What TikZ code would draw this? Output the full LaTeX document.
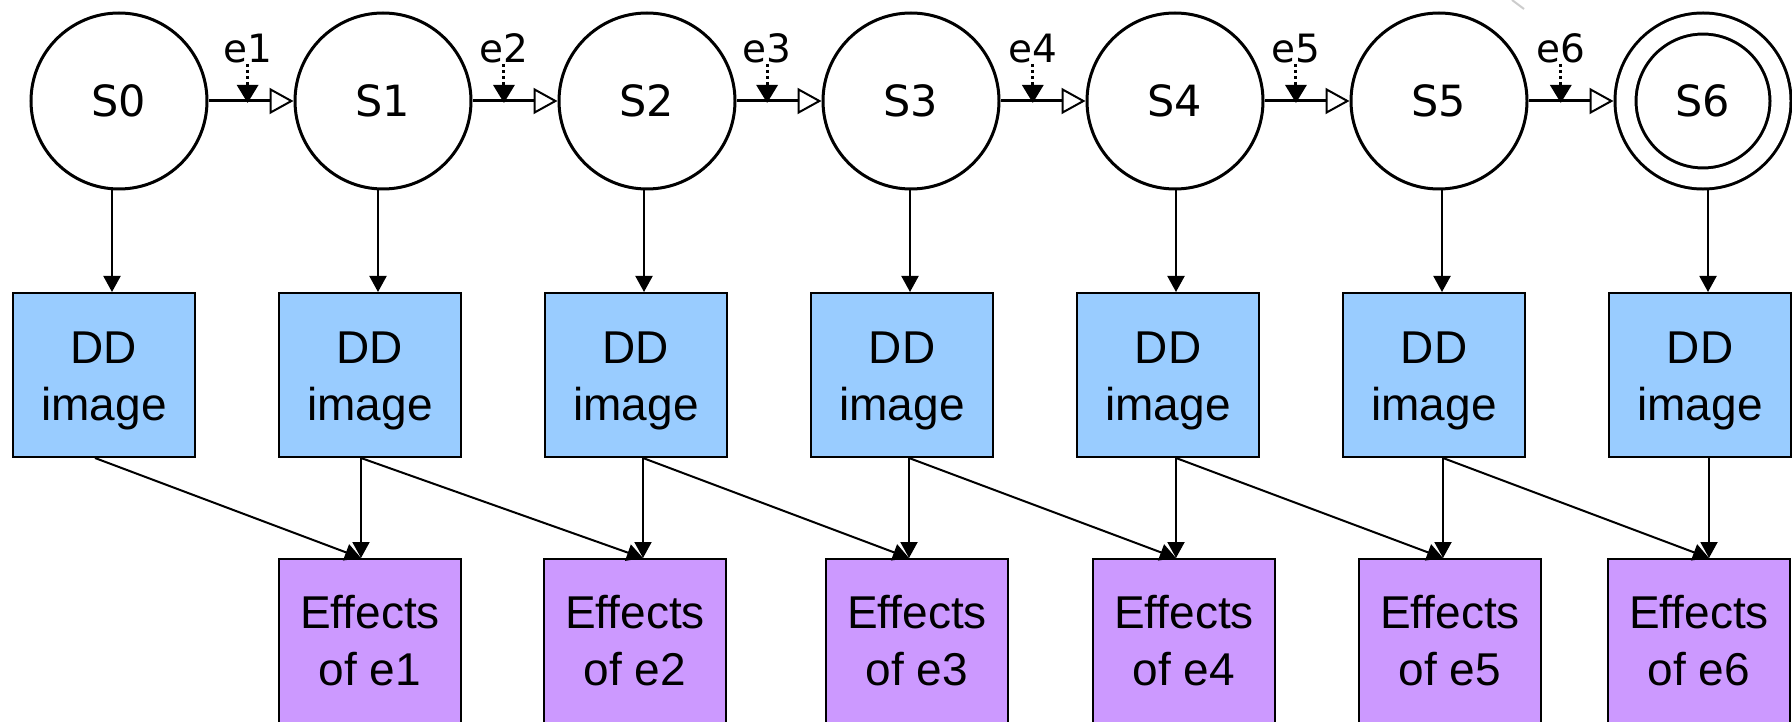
\documentclass[tikz,border=0pt]{standalone}
\usepackage{fontspec}
\setmainfont{Liberation Sans}
\newfontfamily\statefont{DejaVu Sans}
\usetikzlibrary{arrows.meta,positioning}
\definecolor{ddblue}{HTML}{99CCFF}
\definecolor{effpurple}{HTML}{CC99FF}
\newcommand\tallpad{\rule{0pt}{44pt}}

\begin{document}
\begin{tikzpicture}[x=1pt,y=1pt,>={Triangle[length=16pt,width=17pt]},
    state/.style={circle,draw,line width=3pt,minimum size=176pt,inner sep=0pt,
      font=\statefont\fontsize{43}{50}\selectfont},
    final/.style={state,double,double distance=18pt,minimum size=155pt,outer sep=12pt},
    trans/.style={-{Triangle[length=24pt,width=26pt,fill=white,line width=2pt]},line width=3pt},
    evlabel/.style={inner sep=1pt,font=\statefont\fontsize{39}{44}\selectfont},
    evarrow/.style={-{Triangle[length=18pt,width=21pt]},line width=3pt,dash pattern=on 3pt off 3pt},
    ddbox/.style={rectangle,draw,fill=ddblue,line width=2pt,minimum width=182pt,
      minimum height=164pt,align=center,font=\fontsize{46}{57}\selectfont},
    effbox/.style={ddbox,fill=effpurple},
    flow/.style={->,line width=2pt}]

      \useasboundingbox (0,0) rectangle (1792,-722);

      \path (119,-101) node[state](s_0){S0} (383,-101) node[state](s_1){S1}
            (647,-101) node[state](s_2){S2} (911,-101) node[state](s_3){S3}
            (1175,-101) node[state](s_4){S4} (1439,-101) node[state](s_5){S5}
            (1703,-101) node[final](s_6){S6};
      \path (104,-375) node[ddbox](dd_0){\tallpad DD\\image} (370,-375) node[ddbox](dd_1){\tallpad DD\\image}
            (636,-375) node[ddbox](dd_2){\tallpad DD\\image} (902,-375) node[ddbox](dd_3){\tallpad DD\\image}
            (1168,-375) node[ddbox](dd_4){\tallpad DD\\image} (1434,-375) node[ddbox](dd_5){\tallpad DD\\image}
            (1700,-375) node[ddbox](dd_6){\tallpad DD\\image};
      \path (370,-641) node[effbox](eff_1){Effects\\of e1} (635,-641) node[effbox](eff_2){Effects\\of e2}
            (917,-641) node[effbox](eff_3){Effects\\of e3} (1184,-641) node[effbox](eff_4){Effects\\of e4}
            (1450,-641) node[effbox](eff_5){Effects\\of e5} (1699,-641) node[effbox](eff_6){Effects\\of e6};

      % transitions and the events that trigger them
      \draw[trans] (s_0) -- coordinate[pos=.46](hit_1) (s_1);
      \draw[trans] (s_1) -- coordinate[pos=.37](hit_2) (s_2);
      \draw[trans] (s_2) -- coordinate[pos=.36](hit_3) (s_3);
      \draw[trans] (s_3) -- coordinate[pos=.38](hit_4) (s_4);
      \draw[trans] (s_4) -- coordinate[pos=.37](hit_5) (s_5);
      \draw[trans] (s_5) -- coordinate[pos=.38](hit_6) (s_6);
      \node[evlabel,above=37pt of hit_1](ev_1){e1};
      \node[evlabel,above=37pt of hit_2](ev_2){e2};
      \node[evlabel,above=37pt of hit_3](ev_3){e3};
      \node[evlabel,above=37pt of hit_4](ev_4){e4};
      \node[evlabel,above=37pt of hit_5](ev_5){e5};
      \node[evlabel,above=37pt of hit_6](ev_6){e6};
      \draw[evarrow] (ev_1) -- ([yshift=-2pt]hit_1);
      \draw[evarrow] (ev_2) -- ([yshift=-2pt]hit_2);
      \draw[evarrow] (ev_3) -- ([yshift=-2pt]hit_3);
      \draw[evarrow] (ev_4) -- ([yshift=-2pt]hit_4);
      \draw[evarrow] (ev_5) -- ([yshift=-2pt]hit_5);
      \draw[evarrow] (ev_6) -- ([yshift=-2pt]hit_6);

      \draw[flow] ([xshift=-7pt]s_0.south) -- ([xshift=8pt]dd_0.north);
      \draw[flow] ([xshift=-5pt]s_1.south) -- ([xshift=8pt]dd_1.north);
      \draw[flow] ([xshift=-3pt]s_2.south) -- ([xshift=8pt]dd_2.north);
      \draw[flow] ([xshift=-1pt]s_3.south) -- ([xshift=8pt]dd_3.north);
      \draw[flow] ([xshift=1pt]s_4.south) -- ([xshift=8pt]dd_4.north);
      \draw[flow] ([xshift=3pt]s_5.south) -- ([xshift=8pt]dd_5.north);
      \draw[flow] ([xshift=5pt]s_6.south) -- ([xshift=8pt]dd_6.north);

      \coordinate (top_1) at ([xshift=-9pt]eff_1.north);
      \coordinate (top_2) at ([xshift=8pt]eff_2.north);
      \coordinate (top_3) at ([xshift=-8pt]eff_3.north);
      \coordinate (top_4) at ([xshift=-8pt]eff_4.north);
      \coordinate (top_5) at ([xshift=-7pt]eff_5.north);
      \coordinate (top_6) at ([xshift=10pt]eff_6.north);
      \draw[flow] (dd_1.south -| top_1) -- (top_1);
      \draw[flow] (dd_2.south -| top_2) -- (top_2);
      \draw[flow] (dd_3.south -| top_3) -- (top_3);
      \draw[flow] (dd_4.south -| top_4) -- (top_4);
      \draw[flow] (dd_5.south -| top_5) -- (top_5);
      \draw[flow] (dd_6.south -| top_6) -- (top_6);
      \draw[flow] ([xshift=-9pt]dd_0.south) -- (top_1);
      \draw[flow] ([xshift=-9pt]dd_1.south) -- (top_2);
      \draw[flow] ([xshift=7pt]dd_2.south) -- (top_3);
      \draw[flow] ([xshift=7pt]dd_3.south) -- (top_4);
      \draw[flow] ([xshift=8pt]dd_4.south) -- (top_5);
      \draw[flow] ([xshift=9pt]dd_5.south) -- (top_6);

      \draw[gray!40,line width=2pt] (1512,0) -- (1524,-9);

    \end{tikzpicture}
\end{document}
